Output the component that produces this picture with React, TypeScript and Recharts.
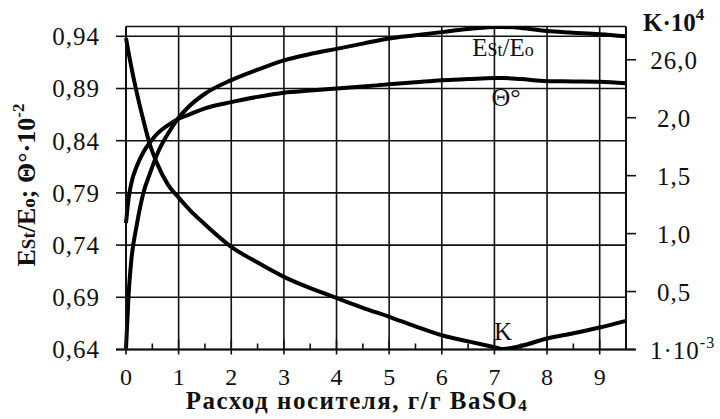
import React from "react";
import {
  CartesianGrid,
  Line,
  LineChart,
  ReferenceLine,
  XAxis,
  YAxis,
} from "recharts";

// Расход носителя, г/г BaSO4
const xValues = [
  0, 0.05, 0.1, 0.2, 0.33, 0.45, 0.6, 0.8, 1, 1.2, 1.5, 2, 2.5, 3, 3.5, 4, 4.5,
  5, 5.5, 6, 6.5, 7, 7.15, 7.5, 8, 8.5, 9, 9.5,
];
// Est/Eo (left axis)
const estValues = [
  0.641, 0.693, 0.725, 0.758, 0.79, 0.808, 0.828, 0.847, 0.862, 0.873, 0.885,
  0.898, 0.908, 0.917, 0.923, 0.928, 0.933, 0.938, 0.941, 0.944, 0.947, 0.9488,
  0.949, 0.948, 0.945, 0.9435, 0.942, 0.94,
];
// Θ°·10^-2 (left axis)
const thetaValues = [
  0.761, 0.785, 0.799, 0.815, 0.829, 0.838, 0.847, 0.855, 0.861, 0.865, 0.871,
  0.877, 0.882, 0.886, 0.888, 0.89, 0.892, 0.894, 0.896, 0.898, 0.899, 0.9,
  0.9, 0.899, 0.897, 0.8968, 0.8965, 0.895,
];
// K·10^4 (right axis)
const kValues = [
  2.686, 2.56, 2.44, 2.225, 1.98, 1.775, 1.595, 1.42, 1.31, 1.21, 1.08, 0.886,
  0.75, 0.627, 0.53, 0.445, 0.36, 0.282, 0.2, 0.123, 0.07, 0.02, 0.005, 0.03,
  0.095, 0.14, 0.19, 0.247,
];

const xTicks = [0, 0.5, 1, 1.5, 2, 2.5, 3, 3.5, 4, 4.5, 5, 5.5, 6, 6.5, 7, 7.5, 8, 8.5, 9];
const xGrid = [0, 1, 2, 3, 4, 5, 6, 7, 8, 9];
const leftTicks = [0.64, 0.69, 0.74, 0.79, 0.84, 0.89, 0.94];
const rightTicks = [0, 0.5, 1, 1.5, 2, 2.5];
const rightTickLabels = ["1·10", "0,5", "1,0", "1,5", "2,0", "26,0"];

const data = xValues.map((x, i) => ({
  x,
  est: estValues[i],
  theta: thetaValues[i],
  k: kValues[i],
}));

const FONT = "Liberation Serif, serif";
const INK = "#111";

function BottomTick(props: any) {
  const { x, y, payload } = props;
  const v = payload.value as number;
  const major = Number.isInteger(v);
  return (
    <g>
      <line
        x1={x}
        x2={x}
        y1={y - (major ? 10 : 6)}
        y2={y + (major ? 5 : 0)}
        stroke={INK}
        strokeWidth={1.6}
      />
      {major && (
        <text
          x={x}
          y={y + 35}
          textAnchor="middle"
          style={{ fontFamily: FONT }}
          fontSize={24}
          fill={INK}
        >
          {v}
        </text>
      )}
    </g>
  );
}

function RightTick(props: any) {
  const { x, y, payload, index } = props;
  const label = rightTickLabels[index] ?? String(payload.value);
  return (
    <g>
      <line x1={x} x2={x + 10} y1={y} y2={y} stroke={INK} strokeWidth={1.6} />
      {payload.value === 0 ? (
        <text x={x + 24} y={y + 9} style={{ fontFamily: FONT }} fontSize={25} fill={INK} letterSpacing={1}>
          {label}
          <tspan fontSize={16} dy={-11}>-3</tspan>
        </text>
      ) : (
        <text
          x={x + 48}
          y={y + 9}
          textAnchor="middle"
          style={{ fontFamily: FONT }}
          fontSize={25}
          fill={INK}
          letterSpacing={1}
        >
          {label}
        </text>
      )}
    </g>
  );
}

export default function App() {
  return (
    <div style={{ width: 720, height: 419, background: "#fff", fontFamily: FONT }}>
      <style>{`body{margin:0}`}</style>
      <LineChart
        width={720}
        height={419}
        data={data}
        margin={{ top: 26.5, right: 0, bottom: 0, left: 0 }}
        style={{ fontFamily: FONT }}
      >
        <CartesianGrid
          yAxisId="left"
          vertical={false}
          stroke={INK}
          strokeWidth={1.6}
        />
        <XAxis
          dataKey="x"
          type="number"
          domain={[0, 9.5]}
          ticks={xTicks}
          interval={0}
          height={69.5}
          axisLine={false}
          tickLine={false}
          tickSize={0}
          tickMargin={0}
          tick={<BottomTick />}
        />
        <YAxis
          yAxisId="left"
          orientation="left"
          type="number"
          domain={[0.64, 0.9494]}
          allowDataOverflow
          ticks={leftTicks}
          interval={0}
          width={126}
          axisLine={{ stroke: INK, strokeWidth: 2 }}
          tickLine={{ stroke: INK, strokeWidth: 1.6 }}
          tickSize={10}
          tickMargin={16}
          tickFormatter={(v: number) => v.toFixed(2).replace(".", ",")}
          tick={{ fill: INK, fontSize: 25, fontFamily: FONT, letterSpacing: 1 }}
        />
        <YAxis
          yAxisId="right"
          orientation="right"
          type="number"
          domain={[0, 2.787]}
          allowDataOverflow
          ticks={rightTicks}
          interval={0}
          width={94}
          axisLine={{ stroke: INK, strokeWidth: 2 }}
          tickLine={false}
          tickSize={0}
          tickMargin={0}
          tick={<RightTick />}
        />
        {xGrid.map((g) => (
          <ReferenceLine
            key={g}
            yAxisId="left"
            x={g}
            stroke={INK}
            strokeWidth={1.6}
          />
        ))}
        <ReferenceLine
          yAxisId="left"
          segment={[
            { x: -0.19, y: 0.64 },
            { x: 9.68, y: 0.64 },
          ]}
          ifOverflow="visible"
          stroke={INK}
          strokeWidth={2}
        />
        <Line
          yAxisId="left"
          type="monotone"
          dataKey="est"
          stroke="#000"
          strokeWidth={4}
          dot={false}
          isAnimationActive={false}
        />
        <Line
          yAxisId="left"
          type="monotone"
          dataKey="theta"
          stroke="#000"
          strokeWidth={4}
          dot={false}
          isAnimationActive={false}
        />
        <Line
          yAxisId="right"
          type="monotone"
          dataKey="k"
          stroke="#000"
          strokeWidth={4}
          dot={false}
          isAnimationActive={false}
        />
        <text x={503} y={56} textAnchor="middle" style={{ fontFamily: FONT }} fontSize={25} fill={INK}>
          E<tspan fontSize={18}>St</tspan>/E<tspan fontSize={18}>o</tspan>
        </text>
        <text x={506} y={106} textAnchor="middle" style={{ fontFamily: FONT }} fontSize={26} fill={INK}>
          Θ°
        </text>
        <text x={503} y={340} textAnchor="middle" style={{ fontFamily: FONT }} fontSize={25} fill={INK}>
          K
        </text>
        <text x={643} y={31} style={{ fontFamily: FONT }} fontSize={25} fontWeight="bold" fill={INK}>
          K·10<tspan fontSize={17} dy={-11}>4</tspan>
        </text>
        <text
          x={357}
          y={409}
          textAnchor="middle"
          style={{ fontFamily: FONT }}
          fontSize={25}
          fontWeight="bold"
          letterSpacing={1.5}
          fill={INK}
        >
          Расход носителя, г/г BaSO<tspan fontSize={17} dy={2}>4</tspan>
        </text>
        <text
          x={35}
          y={185}
          transform="rotate(-90 35 185)"
          textAnchor="middle"
          style={{ fontFamily: FONT }}
          fontSize={26}
          fontWeight="bold"
          fill={INK}
        >
          E<tspan fontSize={19}>St</tspan>/E<tspan fontSize={19}>o</tspan>; Θ°·10
          <tspan fontSize={17} dy={-11}>-2</tspan>
        </text>
      </LineChart>
    </div>
  );
}
